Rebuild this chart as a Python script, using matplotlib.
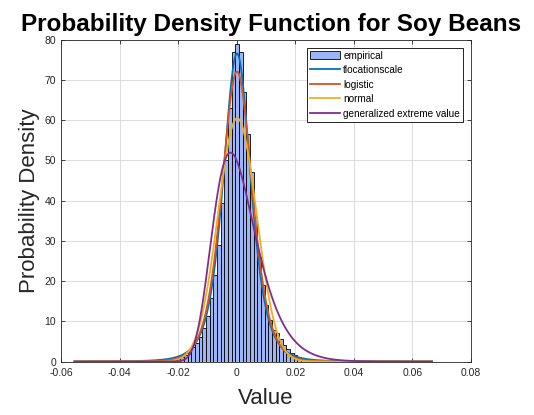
import math
import numpy as np
import matplotlib.pyplot as plt

plt.rcParams['font.family'] = ['Liberation Sans', 'DejaVu Sans']
plt.rcParams['axes.unicode_minus'] = False

# empirical histogram (normalised to a pdf)
bin_start = -0.02175
bin_width = 0.00125
density = [0.3, 0.6, 1.0, 1.5, 2.4, 3.5, 4.6, 6.1, 8.3, 11.2,
           15.7, 21.5, 28.9, 39.3, 50.0, 63.0, 77.0, 79.0, 77.0, 67.0,
           56.5, 47.0, 36.0, 26.0, 19.0, 14.0, 10.3, 7.8, 7.0, 5.5,
           4.0, 3.0, 2.2, 1.5, 1.2, 0.8, 0.6, 0.3, 0.2]

# range of the returns used for the fitted curves
x_min, x_max = -0.0554, 0.0667

# fitted distribution parameters
tls_mu, tls_sigma, tls_nu = 0.0001, 0.0049, 4.0
logi_mu, logi_s = 0.0001, 0.00347
norm_mu, norm_sigma = 0.0002, 0.0066
gev_k, gev_sigma, gev_mu = -0.06, 0.0071, -0.00256

labels = ['empirical', 'tlocationscale', 'logistic', 'normal',
          'generalized extreme value']
colors = ['#0072BD', '#D95319', '#EDB120', '#7E2F8E']


def tls_pdf(x, mu, sigma, nu):
    z = (x - mu) / sigma
    c = math.gamma((nu + 1) / 2) / (math.gamma(nu / 2) * math.sqrt(nu * math.pi) * sigma)
    return c * (1 + z**2 / nu) ** (-(nu + 1) / 2)


def logistic_pdf(x, mu, s):
    e = np.exp(-(x - mu) / s)
    return e / (s * (1 + e) ** 2)


def normal_pdf(x, mu, sigma):
    return np.exp(-0.5 * ((x - mu) / sigma) ** 2) / (sigma * math.sqrt(2 * math.pi))


def gev_pdf(x, k, sigma, mu):
    t = 1 + k * (x - mu) / sigma
    out = np.zeros_like(x)
    ok = t > 0
    u = t[ok] ** (-1 / k)
    out[ok] = u ** (1 + k) * np.exp(-u) / sigma
    return out


x = np.linspace(x_min, x_max, 600)
curves = [tls_pdf(x, tls_mu, tls_sigma, tls_nu),
          logistic_pdf(x, logi_mu, logi_s),
          normal_pdf(x, norm_mu, norm_sigma),
          gev_pdf(x, gev_k, gev_sigma, gev_mu)]

fig = plt.figure(figsize=(5.34, 4.15), dpi=100)
ax = fig.add_axes([0.1142, 0.1289, 0.7678, 0.7759])

edges = bin_start + bin_width * np.arange(len(density))
bars = ax.bar(edges, density, width=bin_width, align='edge', color='#9db5f6',
              edgecolor='black', linewidth=0.6, label=labels[0], zorder=2)
handles = [bars]
for y, c, lab in zip(curves, colors, labels[1:]):
    line, = ax.plot(x, y, color=c, linewidth=1.3, label=lab, zorder=3)
    handles.append(line)

ax.set_xlim(-0.06, 0.08)
ax.set_ylim(0, 80)
ax.set_xticks(np.arange(-0.06, 0.081, 0.02))
ax.set_xticklabels(['-0.06', '-0.04', '-0.02', '0', '0.02', '0.04', '0.06', '0.08'])
ax.set_yticks(np.arange(0, 81, 10))
ax.grid(True, color='#dcdcdc', linewidth=0.7, zorder=0)
ax.set_axisbelow(True)
ax.tick_params(direction='in', length=3, width=0.6, labelsize=7.5,
               colors='#262626', top=True, right=True)
ax.tick_params(axis='x', pad=5)
for s in ax.spines.values():
    s.set_color('#262626')
    s.set_linewidth(0.6)

ax.set_title('Probability Density Function for Soy Beans', fontsize=17.5,
             fontweight='bold', pad=6, x=0.512)
ax.set_xlabel('Value', fontsize=16, color='#262626', labelpad=7)
ax.set_ylabel('Probability Density', fontsize=16, color='#262626', labelpad=3)

leg = ax.legend(handles, labels, loc='upper right', fontsize=7.2, frameon=True,
                fancybox=False, edgecolor='black', framealpha=1, borderaxespad=0.8,
                handlelength=3.0, handleheight=0.9, labelspacing=0.45,
                borderpad=0.3, handletextpad=0.3)
leg.get_frame().set_linewidth(0.6)

fig.savefig('out.png', dpi=100)
